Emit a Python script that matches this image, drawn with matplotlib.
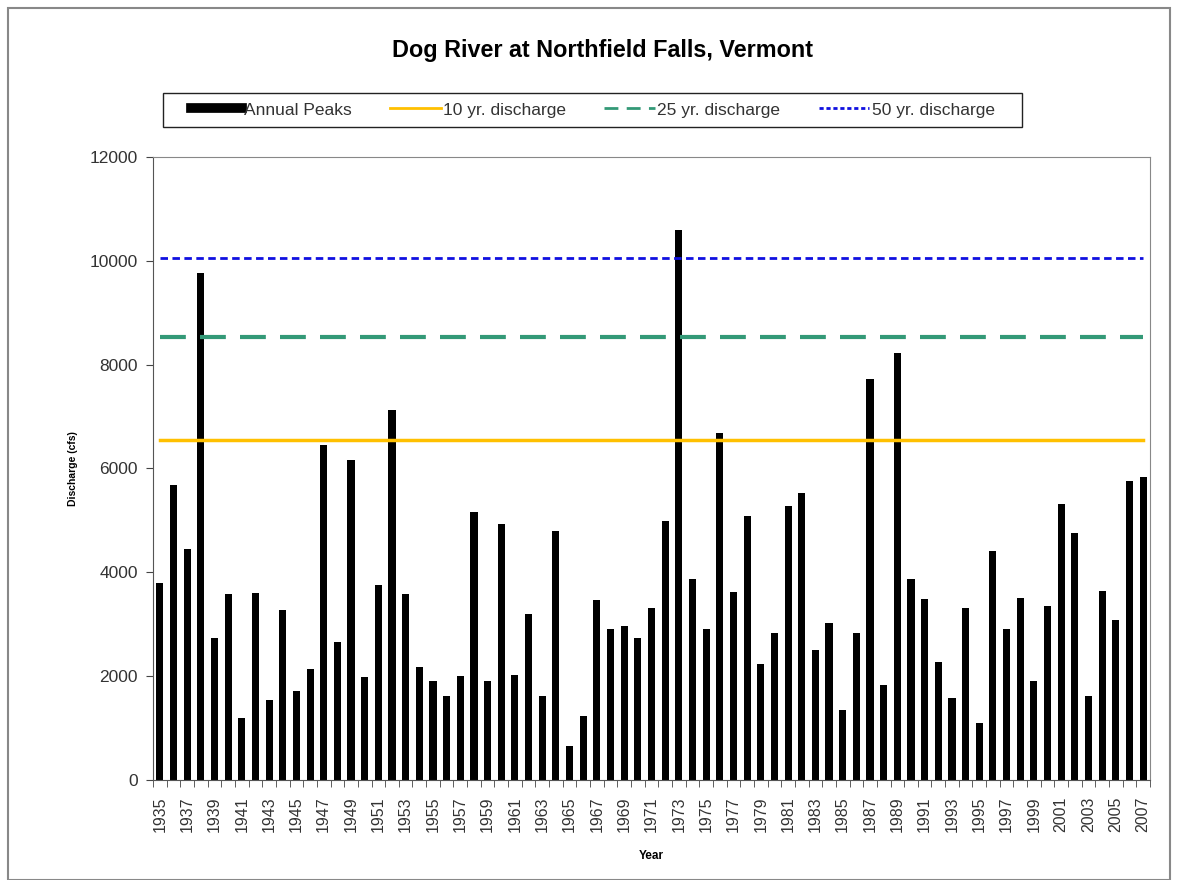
import matplotlib
matplotlib.use("Agg")
import matplotlib.pyplot as plt
from matplotlib.lines import Line2D
from matplotlib.patches import Rectangle
import numpy as np

plt.rcParams['font.family'] = ['Liberation Sans', 'DejaVu Sans']

years = list(range(1935, 2008))
peaks = [3800, 5690, 4450, 9760, 2730, 3580, 1200, 3600, 1550, 3280,
         1720, 2130, 6460, 2650, 6160, 1980, 3750, 7130, 3580, 2170,
         1900, 1620, 2010, 5170, 1900, 4940, 2020, 3200, 1610, 4800,
         650, 1240, 3460, 2910, 2970, 2730, 3310, 4980, 10590, 3870,
         2900, 6680, 3620, 5080, 2240, 2830, 5270, 5530, 2500, 3020,
         1350, 2840, 7720, 1830, 8230, 3870, 3490, 2280, 1570, 3320,
         1090, 4420, 2910, 3500, 1900, 3350, 5310, 4750, 1610, 3650,
         3090, 5760, 5830]
q10 = 6540
q25 = 8530
q50 = 10050

W, H = 1178, 880
fig = plt.figure(figsize=(W/100, H/100), dpi=100)
ax = fig.add_axes([153/W, 1 - 780/H, (1150-153)/W, (780-157)/H])

x = np.arange(len(years))
ax.bar(x, peaks, width=0.52, color='black', zorder=2)
ax.plot(x, [q10]*len(x), color='#FFC000', lw=2.5, zorder=3)
ax.plot(x, [q25]*len(x), color='#339977', lw=3, dashes=(6.2, 3.4), zorder=3)
ax.plot(x, [q50]*len(x), color='#1010E0', lw=2, dashes=(2.7, 1.6), zorder=3)

ax.set_xlim(-0.5, len(years) - 0.5)
ax.set_ylim(0, 12000)
ax.set_yticks(np.arange(0, 12001, 2000))
ax.tick_params(axis='y', labelsize=12.5, length=5, direction='out', colors='#444444',
               labelcolor='#333333', pad=6)
ax.set_xticks(x[::2])
ax.set_xticklabels([str(y) for y in years[::2]], rotation=90, fontsize=11.5, color='#333333')
ax.set_xticks(np.arange(-0.5, len(years), 1), minor=True)
ax.tick_params(axis='x', which='major', length=0, pad=12)
ax.tick_params(axis='x', which='minor', length=5, direction='out', colors='#444444')

for s in ['top', 'right']:
    ax.spines[s].set_color('#888888')
for s in ['left', 'bottom']:
    ax.spines[s].set_color('#555555')

ax.set_ylabel('Discharge (cfs)', fontsize=7.5, fontweight='bold', labelpad=8)
ax.set_xlabel('Year', fontsize=8.5, fontweight='bold', labelpad=13)

fig.text(602/W, 1 - 50/H, 'Dog River at Northfield Falls, Vermont', ha='center', va='center',
         fontsize=16.8, fontweight='bold')

handles = [Line2D([0], [0], color='black', lw=7),
           Line2D([0], [0], color='#FFC000', lw=2),
           Line2D([0], [0], color='#339977', lw=2, dashes=(5, 3)),
           Line2D([0], [0], color='#1010E0', lw=2, dashes=(1.5, 1))]
labels = ['Annual Peaks', '10 yr. discharge', '25 yr. discharge', '50 yr. discharge']
leg = fig.legend(handles, labels, loc='center', bbox_to_anchor=(593/W, 1 - 110/H),
                 ncol=4, fontsize=12.5, frameon=False, handlelength=2.9,
                 handletextpad=0.15, columnspacing=2.2, labelcolor='#333333')

fig.patches.append(Rectangle((163/W, 1 - 127/H), (1022-163)/W, 34/H, transform=fig.transFigure,
                             fill=False, edgecolor='#222222', lw=1))
fig.patches.append(Rectangle((8/W, 0), 1 - 16/W, 1 - 8/H, transform=fig.transFigure,
                             fill=False, edgecolor='#888888', lw=1.5))

fig.savefig('out.png', dpi=100)
